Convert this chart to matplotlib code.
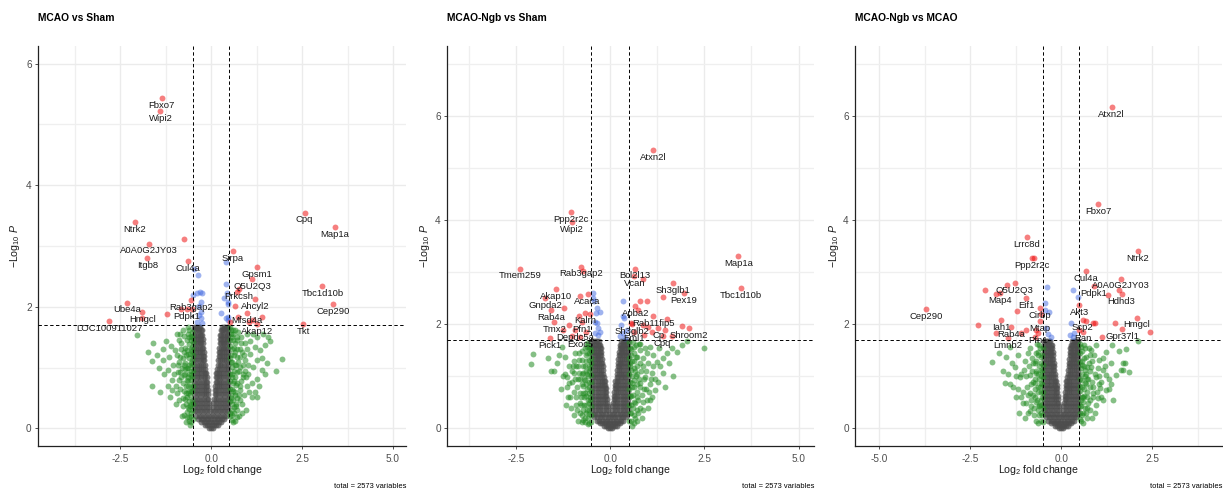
import matplotlib
matplotlib.use('Agg')
import matplotlib.pyplot as plt
import numpy as np

plt.rcParams['font.family'] = ['Liberation Sans', 'DejaVu Sans']
plt.rcParams['mathtext.fontset'] = 'custom'
plt.rcParams['mathtext.rm'] = 'Liberation Sans'
plt.rcParams['mathtext.it'] = 'Liberation Sans:italic'

# ---- data ----
titles = ['MCAO vs Sham', 'MCAO-Ngb vs Sham', 'MCAO-Ngb vs MCAO']
caption = 'total = 2573 variables'
fc_cut = 0.5
p_cut = 0.02

# not significant cloud (grey V), shared look in all three panels: (y, [x...])
ns_rows = [
    (0.00, [-0.05, 0.0, 0.05]),
    (0.05, [-0.17, -0.11, -0.05, 0.01, 0.07, 0.13, 0.18]),
    (0.10, [-0.28, -0.21, -0.14, -0.07, 0.0, 0.07, 0.14, 0.21, 0.27]),
    (0.15, [-0.36, -0.29, -0.22, -0.15, -0.08, 0.0, 0.08, 0.15, 0.22, 0.29, 0.35]),
    (0.21, [-0.42, -0.35, -0.28, -0.21, -0.14, -0.07, 0.0, 0.07, 0.14, 0.21, 0.28, 0.35, 0.41]),
    (0.28, [-0.46, -0.39, -0.32, -0.25, -0.18, -0.11, -0.04, 0.04, 0.11, 0.18, 0.25, 0.32, 0.39, 0.45]),
    (0.35, [-0.47, -0.40, -0.33, -0.26, -0.19, -0.12, -0.05, 0.05, 0.12, 0.19, 0.26, 0.33, 0.40, 0.47]),
    (0.42, [-0.47, -0.40, -0.33, -0.26, -0.19, -0.12, -0.06, 0.06, 0.12, 0.19, 0.26, 0.33, 0.40, 0.47]),
    (0.49, [-0.47, -0.40, -0.33, -0.26, -0.19, -0.13, -0.08, 0.08, 0.13, 0.19, 0.26, 0.33, 0.40, 0.47]),
    (0.56, [-0.47, -0.40, -0.33, -0.26, -0.19, -0.14, -0.09, 0.09, 0.14, 0.19, 0.26, 0.33, 0.40, 0.47]),
    (0.63, [-0.47, -0.40, -0.33, -0.26, -0.19, -0.14, -0.10, 0.10, 0.14, 0.19, 0.26, 0.33, 0.40, 0.47]),
    (0.70, [-0.47, -0.40, -0.33, -0.26, -0.20, -0.15, -0.11, 0.11, 0.15, 0.20, 0.26, 0.33, 0.40, 0.47]),
    (0.77, [-0.47, -0.40, -0.33, -0.26, -0.20, -0.15, -0.12, 0.12, 0.15, 0.20, 0.26, 0.33, 0.40, 0.47]),
    (0.84, [-0.47, -0.40, -0.33, -0.27, -0.21, -0.16, -0.13, 0.13, 0.16, 0.21, 0.27, 0.33, 0.40, 0.47]),
    (0.91, [-0.47, -0.40, -0.33, -0.27, -0.21, -0.17, -0.14, 0.14, 0.17, 0.21, 0.27, 0.33, 0.40, 0.47]),
    (0.98, [-0.47, -0.40, -0.34, -0.28, -0.22, -0.17, 0.17, 0.22, 0.28, 0.34, 0.40, 0.47]),
    (1.05, [-0.47, -0.40, -0.34, -0.28, -0.23, -0.18, 0.18, 0.23, 0.28, 0.34, 0.40, 0.47]),
    (1.12, [-0.47, -0.41, -0.35, -0.29, -0.24, -0.19, 0.19, 0.24, 0.29, 0.35, 0.41, 0.47]),
    (1.19, [-0.47, -0.41, -0.35, -0.29, -0.24, -0.20, 0.20, 0.24, 0.29, 0.35, 0.41, 0.47]),
    (1.26, [-0.47, -0.41, -0.35, -0.30, -0.25, -0.21, 0.21, 0.25, 0.30, 0.35, 0.41, 0.47]),
    (1.33, [-0.47, -0.41, -0.36, -0.31, -0.26, -0.22, 0.22, 0.26, 0.31, 0.36, 0.41, 0.47]),
    (1.40, [-0.47, -0.41, -0.36, -0.31, -0.27, -0.23, 0.23, 0.27, 0.31, 0.36, 0.41, 0.47]),
    (1.47, [-0.47, -0.42, -0.37, -0.32, -0.28, -0.24, 0.24, 0.28, 0.32, 0.37, 0.42, 0.47]),
    (1.54, [-0.47, -0.42, -0.37, -0.32, -0.28, -0.25, 0.25, 0.28, 0.32, 0.37, 0.42, 0.47]),
    (1.61, [-0.47, -0.42, -0.37, -0.33, -0.29, -0.26, 0.26, 0.29, 0.33, 0.37, 0.42, 0.47]),
    (1.67, [-0.47, -0.42, -0.38, -0.34, -0.30, 0.30, 0.34, 0.38, 0.42, 0.47]),
]

# ---- panel 1: MCAO vs Sham ----
p1_green = [(-2.04, 1.54), (-1.75, 1.25), (-1.64, 1.11), (-1.62, 0.69), (-1.32, 1.30), (-1.34, 1.12),
            (-1.25, 1.43), (-1.18, 0.96), (-1.16, 1.18), (-1.09, 0.79), (-1.05, 1.04), (-1.00, 1.29),
            (-0.95, 1.56), (-0.91, 0.93), (-0.86, 1.18), (-0.82, 1.40), (-0.79, 0.74), (-0.77, 1.62),
            (-0.72, 1.07), (-0.70, 0.58), (-0.66, 1.29), (-0.63, 0.85), (-0.61, 1.51), (-0.59, 0.36),
            (-0.57, 0.69), (-0.54, 1.12), (-0.53, 0.47), (-1.09, 0.63), (-0.95, 0.58), (-1.14, 0.52),
            (-0.88, 0.47), (-0.77, 0.36), (-0.68, 0.27), (-0.61, 0.19), (-0.57, 0.25), (-0.66, 0.99),
            (-0.75, 0.88), (-0.54, 1.34), (-0.68, 1.45), (-0.54, 1.59), (-0.63, 1.67), (-0.55, 0.10),
            (-0.58, 0.55), (-0.56, 0.80), (-0.55, 0.95), (-0.58, 1.22), (-0.60, 1.05), (-0.62, 0.45),
            (-0.65, 0.70), (-0.70, 0.40), (-0.72, 0.90), (-0.80, 1.00), (-0.85, 0.65), (-0.90, 0.80),
            (-1.20, 0.70), (-1.30, 0.90), (-1.45, 1.00), (-1.50, 1.20), (-1.40, 0.60), (-0.98, 0.40),
            (-0.80, 0.20), (-0.62, 0.12), (-0.56, 1.45), (-0.75, 1.25), (-0.90, 1.45), (-1.10, 1.35),
            (-1.60, 1.40), (-0.85, 1.55),
            (-0.52, 0.30), (-0.53, 0.62), (-0.52, 0.85), (-0.53, 1.05), (-0.52, 1.28), (-0.53, 1.50),
            (-0.60, 0.32), (-0.60, 0.62), (-0.61, 0.90), (-0.62, 1.15), (-0.61, 1.38), (-0.67, 0.52),
            (-0.68, 0.80), (-0.69, 1.20), (-0.74, 0.62), (-0.76, 1.05), (-0.82, 0.85), (-0.84, 1.30),
            (-0.92, 1.05), (-0.98, 0.70), (-1.02, 0.90), (-0.73, 0.48), (-0.65, 1.55), (-0.58, 0.05),
            (-0.70, 0.10),
            (-0.51, 0.15), (-0.51, 0.40), (-0.51, 0.70), (-0.51, 0.95), (-0.51, 1.20), (-0.51, 1.42),
            (-0.56, 0.20), (-0.56, 0.40), (-0.56, 0.62), (-0.57, 0.88), (-0.56, 1.08), (-0.57, 1.30),
            (-0.57, 1.52), (-0.64, 0.35), (-0.64, 0.58), (-0.63, 0.78), (-0.64, 1.00), (-0.64, 1.22),
            (-0.70, 0.70), (-0.71, 0.98), (-0.72, 1.32), (-0.78, 0.50), (-0.79, 1.15), (-0.86, 0.92),
            (-0.88, 1.10), (-0.66, 0.18), (-0.74, 0.22), (-0.60, 1.62), (-0.76, 1.52), (-0.95, 1.20),
            (0.51, 1.67), (0.61, 1.56), (0.70, 1.45), (0.83, 1.51), (0.93, 1.40), (1.06, 1.43),
            (1.20, 1.34), (1.34, 1.29), (1.48, 1.37), (1.61, 1.44), (1.95, 1.14), (1.77, 0.95),
            (1.39, 0.96), (1.25, 0.82), (1.25, 0.52), (1.11, 0.52), (0.97, 0.69), (0.88, 0.85),
            (0.79, 1.01), (0.70, 1.18), (0.62, 1.32), (0.56, 1.01), (0.59, 0.74), (0.61, 0.47),
            (0.56, 0.30), (0.68, 0.36), (0.79, 0.63), (0.93, 1.12), (1.06, 1.23), (1.16, 1.01),
            (1.02, 0.90), (1.25, 1.12), (1.39, 1.15), (1.52, 1.07), (1.11, 0.74), (0.65, 0.85),
            (0.74, 1.59), (0.97, 1.56), (1.43, 1.56), (1.57, 1.51), (1.48, 0.90), (0.79, 0.47),
            (0.70, 0.19), (0.56, 0.14), (0.55, 0.55), (0.58, 0.90), (0.55, 1.20), (0.60, 1.45),
            (0.66, 0.60), (0.72, 0.75), (0.75, 0.95), (0.68, 1.05), (0.85, 1.25), (0.90, 0.55),
            (0.62, 0.25), (0.72, 0.30), (0.85, 0.40), (1.00, 1.05), (1.30, 0.70), (1.15, 1.55),
            (0.55, 1.62), (0.66, 1.62), (1.27, 1.50),
            (0.52, 0.25), (0.53, 0.50), (0.52, 0.78), (0.53, 1.10), (0.52, 1.35), (0.53, 1.55),
            (0.60, 0.10), (0.60, 0.62), (0.62, 0.95), (0.62, 1.20), (0.66, 1.40), (0.67, 0.40),
            (0.68, 0.72), (0.74, 1.10), (0.76, 0.55), (0.78, 1.30), (0.82, 0.78), (0.86, 1.05),
            (0.92, 0.95), (0.98, 1.30), (1.05, 0.60), (0.72, 1.50), (0.84, 0.25), (0.95, 0.30),
            (1.20, 0.60),
            (0.51, 0.20), (0.51, 0.45), (0.51, 0.65), (0.51, 0.90), (0.51, 1.15), (0.51, 1.45),
            (0.56, 0.22), (0.56, 0.40), (0.57, 0.65), (0.56, 0.85), (0.57, 1.10), (0.56, 1.30),
            (0.57, 1.50), (0.63, 0.35), (0.64, 0.55), (0.63, 0.78), (0.64, 1.05), (0.65, 1.25),
            (0.70, 0.50), (0.71, 0.92), (0.72, 1.30), (0.78, 0.70), (0.80, 1.18), (0.86, 0.90),
            (0.90, 1.20), (0.66, 0.12), (0.76, 0.20), (0.60, 1.62), (0.82, 1.40), (0.95, 0.85)]
p1_blue = [(-0.48, 2.62), (-0.36, 2.52), (-0.49, 2.19), (-0.40, 2.22), (-0.31, 2.24), (-0.25, 2.23),
           (-0.28, 2.08), (-0.33, 2.01), (-0.27, 1.92), (-0.34, 1.86), (-0.27, 1.81), (-0.40, 1.75),
           (-0.26, 1.74), (0.40, 2.74), (0.40, 2.37), (0.42, 2.22), (0.35, 2.15), (0.47, 2.08),
           (0.45, 2.04), (0.28, 1.89), (0.40, 1.82), (0.47, 1.83), (0.45, 1.79)]
p1_red = [(-0.74, 3.11), (0.72, 2.24), (0.65, 2.02), (0.74, 1.84), (1.16, 1.78), (1.39, 1.83),
          (0.52, 1.75), (-1.23, 1.88), (-0.82, 1.97), (-1.90, 1.82), (-0.54, 1.97), (1.05, 1.75)]
p1_labels = ['Fbxo7', 'Wipi2', 'Ntrk2', 'A0A0G2JY03', 'Itgb8', 'Cul4a', 'Cpq', 'Map1a', 'Sirpa',
             'Gpsm1', 'Q5U2Q3', 'Prkcsh', 'Ahcyl2', 'Tbc1d10b', 'Cep290', 'Rab3gap2', 'Ube4a',
             'Pdpk1', 'Hmgcl', 'Mfsd4a', 'LOC100911027', 'Akap12', 'Tkt']
p1_lab_x = [-1.36, -1.40, -2.10, -1.72, -1.76, -0.64, 2.57, 3.41, 0.60, 1.26, 1.13, 0.75, 1.20,
            3.06, 3.36, -0.55, -2.32, -0.68, -1.90, 0.97, -2.81, 1.26, 2.53]
p1_lab_y = [5.43, 5.22, 3.39, 3.04, 2.80, 2.75, 3.55, 3.31, 2.92, 2.65, 2.45, 2.29, 2.13,
            2.34, 2.04, 2.11, 2.07, 1.96, 1.91, 1.89, 1.76, 1.72, 1.71]

# ---- panel 2: MCAO-Ngb vs Sham ----
p2_green = [(-2.06, 1.42), (-2.10, 1.24), (-1.66, 1.35), (-1.50, 1.11), (-1.41, 1.25), (-1.28, 1.57),
            (-1.19, 1.38), (-1.15, 0.99), (-1.08, 0.87), (-1.06, 0.61), (-0.99, 1.19), (-0.93, 1.44),
            (-0.88, 0.80), (-0.84, 1.06), (-0.80, 0.48), (-0.75, 1.31), (-0.71, 0.67), (-0.66, 0.93),
            (-0.62, 0.35), (-0.57, 1.19), (-0.55, 1.44), (-0.53, 0.54), (-0.62, 1.57), (-0.81, 0.29),
            (-0.71, 0.16), (-0.97, 0.70), (-1.17, 0.45), (-1.15, 0.80), (-0.88, 0.35), (-0.80, 0.67),
            (-0.71, 1.06), (-0.97, 1.06), (-0.84, 1.31), (-0.62, 1.44), (-0.66, 0.67), (-0.57, 0.35),
            (-0.75, 0.26), (-0.55, 0.10), (-0.56, 0.80), (-0.58, 1.00), (-0.60, 0.55), (-0.65, 1.30),
            (-0.70, 0.45), (-0.75, 0.85), (-0.90, 1.20), (-1.00, 0.90), (-1.10, 1.20), (-1.25, 1.00),
            (-1.35, 1.40), (-0.58, 1.62), (-0.95, 0.25), (-1.05, 0.40), (-0.68, 0.20), (-1.30, 0.75),
            (-1.58, 1.10),
            (-0.52, 0.25), (-0.53, 0.60), (-0.52, 0.90), (-0.53, 1.15), (-0.52, 1.35), (-0.53, 1.55),
            (-0.60, 0.20), (-0.61, 0.75), (-0.62, 1.05), (-0.64, 0.45), (-0.67, 1.20), (-0.69, 0.95),
            (-0.73, 0.35), (-0.76, 1.05), (-0.78, 0.60), (-0.82, 1.45), (-0.86, 0.95), (-0.90, 0.60),
            (-0.94, 0.95), (-1.02, 1.10), (-1.12, 0.60), (-0.68, 1.55), (-0.58, 0.08), (-0.85, 0.15),
            (-1.20, 1.05),
            (-0.51, 0.12), (-0.51, 0.42), (-0.51, 0.72), (-0.51, 1.02), (-0.51, 1.25), (-0.51, 1.48),
            (-0.56, 0.28), (-0.56, 0.48), (-0.57, 0.68), (-0.56, 0.90), (-0.57, 1.10), (-0.56, 1.32),
            (-0.57, 1.55), (-0.64, 0.30), (-0.63, 0.62), (-0.64, 0.85), (-0.63, 1.10), (-0.64, 1.40),
            (-0.70, 0.60), (-0.71, 0.82), (-0.72, 1.20), (-0.78, 0.45), (-0.80, 0.95), (-0.86, 1.20),
            (-0.90, 0.45), (-0.66, 0.12), (-0.75, 0.12), (-0.62, 1.64), (-0.74, 1.48), (-0.96, 1.30),
            (2.48, 1.54), (2.03, 1.67), (1.68, 1.01), (1.77, 1.47), (1.50, 1.44), (1.41, 1.06),
            (1.24, 1.28), (1.28, 0.90), (1.19, 0.74), (1.06, 0.54), (0.88, 0.35), (0.62, 0.26),
            (0.71, 0.61), (0.80, 0.87), (0.88, 1.19), (0.97, 1.44), (1.06, 1.57), (0.62, 1.57),
            (0.71, 1.38), (0.80, 1.63), (0.93, 0.99), (1.11, 1.06), (1.33, 1.19), (1.41, 1.35),
            (1.55, 1.25), (0.53, 1.19), (0.57, 0.80), (0.66, 0.48), (0.55, 0.15), (0.56, 0.45),
            (0.58, 1.00), (0.55, 1.40), (0.65, 1.10), (0.70, 0.85), (0.75, 0.30), (0.78, 1.50),
            (0.85, 0.65), (0.95, 0.75), (1.00, 1.25), (1.15, 1.40), (1.30, 1.55), (0.60, 1.65),
            (1.00, 0.40), (0.72, 0.15), (1.20, 0.95), (1.45, 0.80), (1.65, 1.55), (1.90, 1.60),
            (0.52, 0.30), (0.53, 0.62), (0.52, 0.90), (0.53, 1.25), (0.52, 1.55), (0.60, 0.40),
            (0.61, 0.65), (0.62, 0.92), (0.63, 1.30), (0.66, 0.20), (0.68, 1.00), (0.70, 1.20),
            (0.74, 0.55), (0.76, 0.95), (0.80, 0.40), (0.83, 1.10), (0.86, 1.35), (0.90, 0.75),
            (0.95, 1.10), (1.02, 0.70), (1.08, 0.95), (0.68, 1.60), (0.58, 0.05), (0.85, 0.20),
            (1.15, 1.20),
            (0.51, 0.15), (0.51, 0.45), (0.51, 0.75), (0.51, 1.05), (0.51, 1.35), (0.51, 1.65),
            (0.56, 0.30), (0.56, 0.62), (0.57, 0.88), (0.56, 1.12), (0.57, 1.30), (0.56, 1.52),
            (0.64, 0.10), (0.63, 0.50), (0.64, 0.80), (0.63, 1.15), (0.64, 1.45), (0.70, 0.35),
            (0.71, 0.70), (0.72, 1.05), (0.78, 0.80), (0.80, 1.25), (0.86, 0.50), (0.90, 0.95),
            (0.68, 1.38), (0.76, 1.62), (0.92, 1.55), (1.05, 0.85), (1.12, 0.60), (0.98, 0.55)]
p2_blue = [(-0.46, 2.60), (-0.46, 2.50), (-0.42, 2.44), (-0.34, 2.31), (-0.27, 2.24), (-0.37, 2.21),
           (-0.40, 2.05), (-0.35, 2.02), (-0.31, 1.92), (-0.27, 1.86), (-0.40, 1.83), (-0.33, 1.79),
           (0.35, 2.44), (0.34, 2.15), (0.37, 2.12), (0.28, 1.99), (0.25, 1.78), (0.35, 1.83),
           (0.40, 1.73), (0.44, 1.89)]
p2_red = [(-0.73, 3.03), (0.86, 2.87), (1.39, 2.52), (0.99, 2.44), (0.80, 2.44), (0.75, 2.28),
          (-0.80, 2.55), (-1.23, 2.31), (-0.84, 2.15), (-1.26, 1.89), (-0.63, 1.85), (1.50, 2.10),
          (0.88, 1.99), (1.00, 1.94), (1.90, 1.96), (1.46, 1.89), (0.54, 2.02), (-0.53, 2.19),
          (-1.10, 1.99), (-1.00, 1.78), (0.90, 1.80), (1.10, 1.85), (1.65, 1.78)]
p2_labels = ['Atxn2l', 'Ppp2r2c', 'Wipi2', 'Tmem259', 'Rab3gap2', 'Bcl2l13', 'Vcan', 'Map1a',
             'Tbc1d10b', 'Sh3glb1', 'Pex19', 'Akap10', 'Gnpda2', 'Acaca', 'Rab4a', 'Kalrn',
             'Apba2', 'Rab11fip5', 'Tmx2', 'Pfn1', 'Sh3glb2', 'Depdc5a', 'Cp', 'Shroom2',
             'Pick1', 'Exoc5', 'Eml1', 'Cpq']
p2_lab_x = [1.15, -1.03, -1.02, -2.40, -0.77, 0.65, 0.64, 3.40, 3.47, 1.66, 1.96, -1.44, -1.73,
            -0.60, -1.57, -0.66, 0.67, 1.15, -1.48, -0.75, 0.58, -0.93, 1.28, 2.08, -1.59, -0.80,
            0.64, 1.39]
p2_lab_y = [5.35, 4.15, 3.96, 3.07, 3.11, 3.07, 2.92, 3.31, 2.70, 2.79, 2.60, 2.67, 2.50,
            2.58, 2.28, 2.21, 2.35, 2.15, 2.04, 2.04, 2.00, 1.89, 1.92, 1.92, 1.73, 1.75,
            1.86, 1.78]

# ---- panel 3: MCAO-Ngb vs MCAO ----
p3_green = [(-1.89, 1.28), (-1.51, 1.38), (-1.42, 0.86), (-1.33, 0.80), (-1.28, 1.18), (-1.19, 1.41),
            (-1.14, 0.99), (-1.10, 0.61), (-1.01, 1.12), (-0.96, 0.48), (-0.91, 1.44), (-0.87, 0.34),
            (-0.82, 0.86), (-0.78, 1.25), (-0.73, 0.61), (-0.69, 1.06), (-0.64, 1.47), (-0.61, 0.42),
            (-0.59, 0.80), (-0.55, 1.25), (-0.87, 0.67), (-1.42, 1.57), (-1.54, 0.88), (-1.05, 0.48),
            (-0.55, 0.15), (-0.57, 0.55), (-0.56, 1.00), (-0.58, 1.55), (-0.62, 0.25), (-0.65, 0.70),
            (-0.68, 1.30), (-0.72, 0.95), (-0.75, 0.40), (-0.80, 1.10), (-0.85, 1.55), (-0.95, 0.80),
            (-1.00, 1.30), (-1.20, 0.75), (-1.25, 1.00), (-1.35, 1.25), (-1.60, 1.10), (-1.70, 1.45),
            (-0.70, 0.15), (-1.00, 0.20), (-1.15, 0.30),
            (-0.52, 0.25), (-0.53, 0.60), (-0.52, 0.85), (-0.53, 1.10), (-0.52, 1.40), (-0.60, 0.45),
            (-0.61, 0.95), (-0.62, 1.20), (-0.64, 0.10), (-0.66, 0.55), (-0.70, 1.10), (-0.72, 0.75),
            (-0.76, 0.25), (-0.78, 0.90), (-0.82, 0.55), (-0.88, 1.20), (-0.92, 0.65), (-0.98, 1.00),
            (-1.05, 0.70), (-1.10, 1.05), (-0.60, 1.60), (-0.70, 1.45), (-0.90, 0.30), (-1.25, 0.60),
            (-1.45, 1.05),
            (-0.51, 0.12), (-0.51, 0.40), (-0.51, 0.70), (-0.51, 0.98), (-0.51, 1.22), (-0.51, 1.55),
            (-0.56, 0.30), (-0.56, 0.45), (-0.57, 0.70), (-0.56, 0.88), (-0.57, 1.12), (-0.56, 1.38),
            (-0.64, 0.35), (-0.63, 0.80), (-0.64, 1.05), (-0.63, 1.40), (-0.70, 0.50), (-0.71, 0.88),
            (-0.72, 1.25), (-0.78, 0.65), (-0.80, 1.35), (-0.86, 1.02), (-0.66, 1.62), (-0.84, 0.42),
            (0.55, 1.57), (0.69, 1.38), (0.82, 1.50), (0.96, 1.60), (1.23, 1.47), (1.58, 1.49),
            (1.69, 1.25), (1.65, 1.12), (1.51, 1.02), (1.37, 0.86), (1.23, 0.74), (1.10, 0.61),
            (0.96, 0.99), (0.82, 1.18), (0.69, 0.86), (0.59, 0.61), (0.55, 0.42), (0.73, 0.48),
            (0.87, 0.67), (1.05, 1.31), (1.14, 1.12), (1.37, 1.25), (1.42, 0.54), (0.64, 1.12),
            (2.10, 1.67), (1.78, 1.52), (1.39, 1.60), (1.69, 1.13), (1.74, 1.26), (1.23, 1.03),
            (1.07, 0.77), (1.14, 0.54), (1.01, 0.58), (0.55, 0.15), (0.57, 0.80), (0.56, 1.30),
            (0.60, 0.30), (0.65, 1.00), (0.70, 0.60), (0.75, 1.25), (0.78, 0.35), (0.85, 0.90),
            (0.90, 1.40), (0.95, 0.45), (1.00, 1.15), (1.05, 0.85), (1.15, 1.35), (1.30, 0.95),
            (0.70, 0.20), (0.62, 1.60), (1.85, 1.08),
            (0.52, 0.30), (0.53, 0.55), (0.52, 0.95), (0.53, 1.15), (0.52, 1.45), (0.60, 0.10),
            (0.61, 0.50), (0.62, 0.75), (0.63, 1.35), (0.67, 0.30), (0.68, 1.05), (0.72, 0.70),
            (0.74, 0.95), (0.78, 1.10), (0.80, 0.55), (0.84, 1.30), (0.88, 0.80), (0.92, 1.05),
            (0.98, 0.70), (1.03, 1.00), (1.10, 0.90), (0.75, 1.55), (0.85, 0.20), (1.20, 1.20),
            (1.30, 0.75),
            (0.51, 0.18), (0.51, 0.42), (0.51, 0.72), (0.51, 0.82), (0.51, 1.28), (0.51, 1.62),
            (0.56, 0.25), (0.56, 0.60), (0.57, 0.92), (0.56, 1.05), (0.57, 1.22), (0.56, 1.48),
            (0.64, 0.40), (0.63, 0.62), (0.64, 0.88), (0.63, 1.20), (0.70, 0.40), (0.71, 0.95),
            (0.72, 1.18), (0.78, 0.80), (0.80, 1.40), (0.86, 0.60), (0.66, 1.55), (0.92, 0.30)]
p3_blue = [(-0.39, 2.72), (0.32, 2.65), (0.46, 2.53), (-0.44, 2.40), (-0.34, 2.24), (-0.46, 2.28),
           (0.27, 2.02), (-0.41, 1.92), (-0.37, 1.81), (-0.27, 1.76), (0.23, 1.79), (0.32, 1.76),
           (0.34, 1.83)]
p3_red = [(-0.75, 3.28), (1.60, 2.66), (1.28, 2.56), (-1.48, 2.76), (-2.10, 2.66), (-1.78, 2.58),
          (-1.22, 2.26), (0.69, 2.07), (0.87, 2.02), (0.94, 2.03), (1.48, 2.03), (2.45, 1.86),
          (1.12, 1.76), (-2.29, 1.99), (-1.78, 1.84), (-0.69, 1.89), (-0.96, 1.89), (-1.10, 1.83),
          (0.50, 1.89), (-0.55, 2.20), (-0.72, 1.76)]
p3_labels = ['Atxn2l', 'Fbxo7', 'Lrrc8d', 'Ppp2r2c', 'Ntrk2', 'Cul4a', 'A0A0G2JY03', 'Q5U2Q3',
             'Pdpk1', 'Map4', 'Hdhd3', 'Eif1', 'Cirbp', 'Akt3', 'Cep290', 'Hmgcl', 'Iah1', 'Mtap',
             'Scp2', 'Rab4a', 'Gpr37l1', 'Ran', 'Pfn1', 'Lmnb2']
p3_lab_x = [1.39, 1.02, -0.94, -0.80, 2.10, 0.69, 1.63, -1.28, 0.90, -1.68, 1.66, -0.97, -0.58,
            0.50, -3.72, 2.08, -1.66, -0.59, 0.59, -1.37, 1.67, 0.59, -0.64, -1.46]
p3_lab_y = [6.17, 4.31, 3.67, 3.28, 3.40, 3.03, 2.88, 2.79, 2.74, 2.60, 2.58, 2.50, 2.31,
            2.37, 2.29, 2.13, 2.08, 2.07, 2.08, 1.94, 1.90, 1.86, 1.83, 1.74]

panels = [
    dict(green=p1_green, blue=p1_blue, red=p1_red, labels=p1_labels, lx=p1_lab_x, ly=p1_lab_y,
         xlim=(-4.77, 5.36), ylim=(-0.29, 6.29), xticks=[-2.5, 0.0, 2.5, 5.0], yticks=[0, 2, 4, 6],
         left=38, right=406, ylab_x=15),
    dict(green=p2_green, blue=p2_blue, red=p2_red, labels=p2_labels, lx=p2_lab_x, ly=p2_lab_y,
         xlim=(-4.33, 5.41), ylim=(-0.34, 7.35), xticks=[-2.5, 0.0, 2.5, 5.0], yticks=[0, 2, 4, 6],
         left=447, right=814, ylab_x=425),
    dict(green=p3_green, blue=p3_blue, red=p3_red, labels=p3_labels, lx=p3_lab_x, ly=p3_lab_y,
         xlim=(-5.67, 4.42), ylim=(-0.34, 7.35), xticks=[-5.0, -2.5, 0.0, 2.5], yticks=[0, 2, 4, 6],
         left=855, right=1222, ylab_x=834),
]

ns_x = [x for y, xs in ns_rows for x in xs]
ns_y = [y for y, xs in ns_rows for x in xs]

W, H = 1223, 491
fig = plt.figure(figsize=(W / 100, H / 100), dpi=100)
top_px, bot_px = 46, 446

for i, p in enumerate(panels):
    ax = fig.add_axes([p['left'] / W, 1 - bot_px / H, (p['right'] - p['left']) / W, (bot_px - top_px) / H])
    xt = p['xticks']
    ax.set_xticks(xt)
    ax.set_xticklabels(['%.1f' % t for t in xt])
    ax.set_yticks(p['yticks'])
    ax.set_xticks([t - 1.25 for t in xt] + [xt[-1] + 1.25], minor=True)
    ax.set_yticks([1, 3, 5, 7], minor=True)
    # limits after ticks, otherwise set_xticks widens them
    ax.set_xlim(*p['xlim'])
    ax.set_ylim(*p['ylim'])
    ax.grid(True, which='major', color='#EBEBEB', lw=1.0, zorder=0)
    ax.grid(True, which='minor', color='#EFEFEF', lw=0.9, zorder=0)
    ax.set_axisbelow(True)
    for s in ['top', 'right']:
        ax.spines[s].set_visible(False)
    for s in ['left', 'bottom']:
        ax.spines[s].set_linewidth(0.9)
        ax.spines[s].set_color('#222222')
    ax.tick_params(which='major', length=2.5, width=0.6, color='#333333', labelsize=7.2,
                   labelcolor='#4D4D4D')
    ax.tick_params(axis='x', pad=3.0)
    ax.tick_params(axis='y', pad=2.0)
    ax.tick_params(which='minor', length=0)

    ms = 18
    ax.scatter(ns_x, ns_y, s=ms, c='#4D4D4D', alpha=0.7, lw=0, zorder=2)
    g = np.array(p['green'])
    ax.scatter(g[:, 0], g[:, 1], s=ms, c='#228B22', alpha=0.55, lw=0, zorder=2)
    b = np.array(p['blue'])
    ax.scatter(b[:, 0], b[:, 1], s=ms, c='#4169E1', alpha=0.5, lw=0, zorder=2)
    r = np.array(p['red'])
    ax.scatter(r[:, 0], r[:, 1], s=ms, c='#EE0000', alpha=0.5, lw=0, zorder=2)
    ax.scatter(p['lx'], p['ly'], s=ms, c='#EE0000', alpha=0.5, lw=0, zorder=2)

    ls = (0, (3.5, 2.5))
    ax.axvline(-fc_cut, color='black', lw=0.7, ls=ls, zorder=3)
    ax.axvline(fc_cut, color='black', lw=0.7, ls=ls, zorder=3)
    ax.axhline(-np.log10(p_cut), color='black', lw=0.7, ls=ls, zorder=3)

    for name, x, y in zip(p['labels'], p['lx'], p['ly']):
        ax.annotate(name, (x, y), xytext=(0, -5.3), textcoords='offset points',
                    ha='center', va='center', fontsize=6.8, color='#1A1A1A', zorder=4)

    fig.text(p['left'] / W, 1 - 18 / H, titles[i], fontsize=7.4, fontweight='bold',
             ha='left', va='center')
    fig.text((p['left'] + p['right']) / 2 / W, 1 - 470 / H, r'Log$_2$ fold change',
             fontsize=7.6, color='#1A1A1A', ha='center', va='center')
    fig.text(p['ylab_x'] / W, 1 - 246 / H, r'$-\mathrm{Log}_{10}\ \mathit{P}$',
             fontsize=7.6, color='#1A1A1A', rotation=90, ha='center', va='center')
    fig.text(p['right'] / W, 1 - 487 / H, caption, fontsize=5.4, ha='right', va='center')

fig.savefig('out.png', dpi=100)
